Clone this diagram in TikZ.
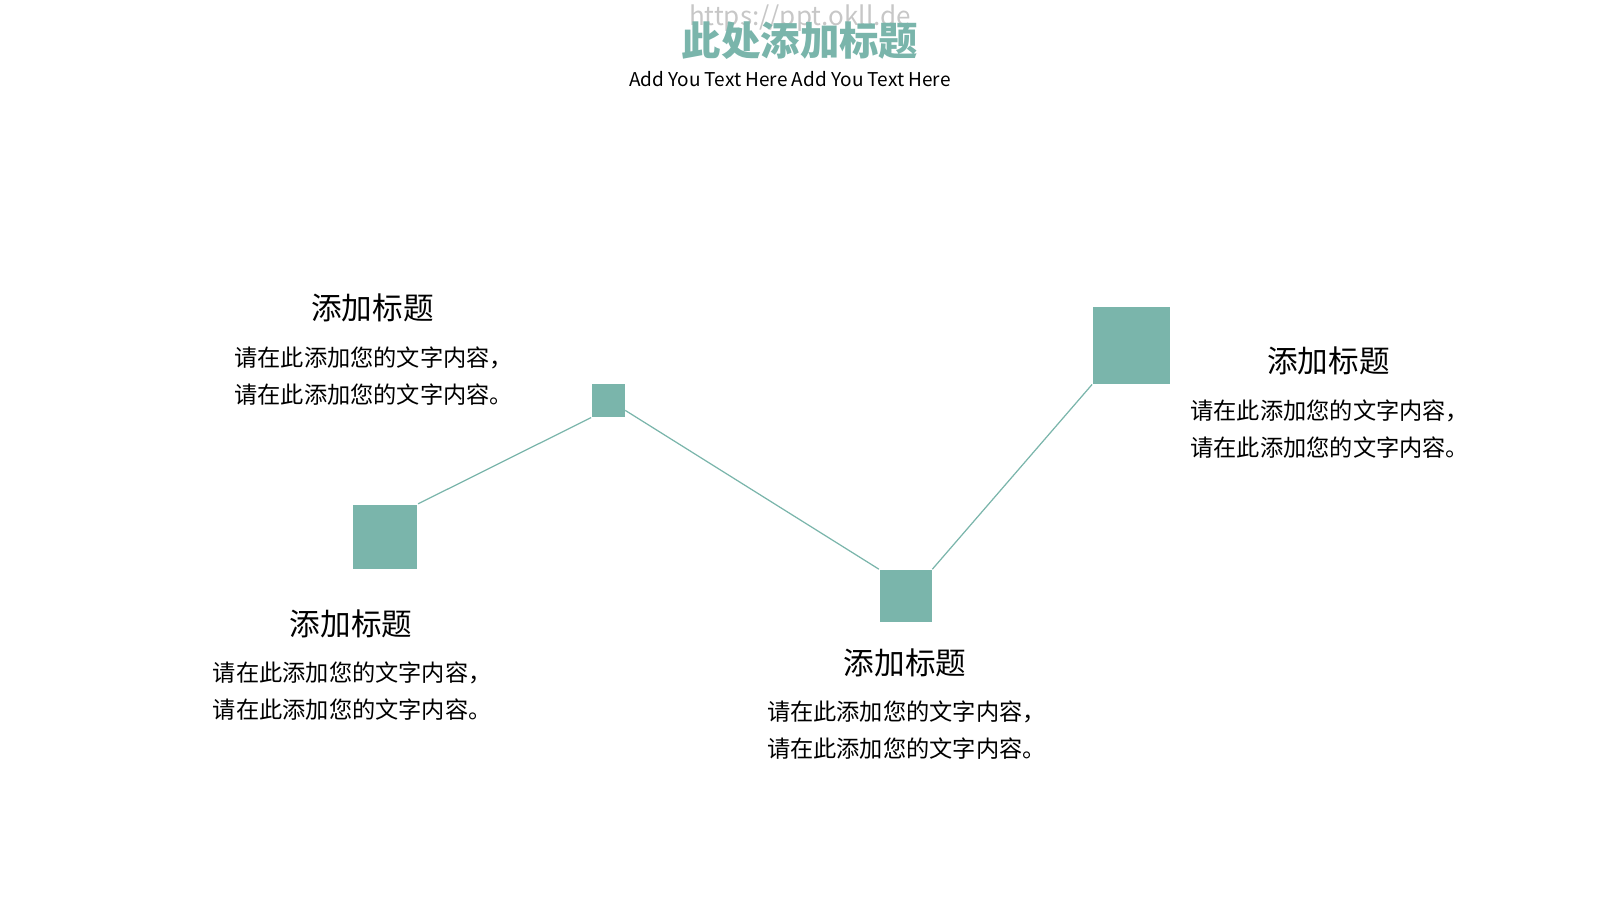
\documentclass[tikz,border=0pt]{standalone}
\usepackage{fontspec}
\setmainfont{Noto Sans CJK SC}
\definecolor{teal}{HTML}{7AB5AB}
\begin{document}
\begin{tikzpicture}[x=0.0102cm,y=-0.0102cm,
        box/.style={fill=teal,inner sep=0pt,draw=none},
        link/.style={teal,line width=0.35pt},
        head/.style={font=\fontsize{8.7}{10}\selectfont,inner sep=0pt},
        body/.style={font=\fontsize{6.6}{10.45}\selectfont,align=left,inner sep=0pt,anchor=north west}]
    \useasboundingbox (0,0) rectangle (1568,882);

    % title
    \node[font=\fontsize{7.4}{8}\selectfont,text=black!22] (url) at (784,18) {https://ppt.okll.de};
    \node[font=\fontsize{11.2}{12}\selectfont\bfseries,text=teal] (title) at (784,40) {此处添加标题};
    \node[font=\fontsize{5.4}{6}\selectfont] (sub) at (774,77) {Add You Text Here Add You Text Here};

    % squares
    \node[box,minimum size=18.3pt] (sqa) at (377.5,526) {};
    \node[box,minimum size=9.3pt] (sqb) at (596,392.5) {};
    \node[box,minimum size=14.8pt] (sqc) at (887.5,584) {};
    \node[box,minimum size=21.8pt] (sqd) at (1108.5,338.5) {};

    \draw[link] (sqa.north east) -- (sqb.south west);
    \draw[link] (sqb.-30) -- (sqc.north west);
    \draw[link] (sqc.north east) -- (sqd.south west);

    % labels
    \node[head] (ha) at (365,302) {添加标题};
    \node[body] (ta) at (229,339) {请在此添加您的文字内容，\\请在此添加您的文字内容。};
    \node[head] (hb) at (344,611) {添加标题};
    \node[body] (tb) at (208,648) {请在此添加您的文字内容，\\请在此添加您的文字内容。};
    \node[head] (hc) at (887,650) {添加标题};
    \node[body] (tc) at (751,686) {请在此添加您的文字内容，\\请在此添加您的文字内容。};
    \node[head] (hd) at (1302,354) {添加标题};
    \node[body] (td) at (1166,391) {请在此添加您的文字内容，\\请在此添加您的文字内容。};
\end{tikzpicture}
\end{document}
